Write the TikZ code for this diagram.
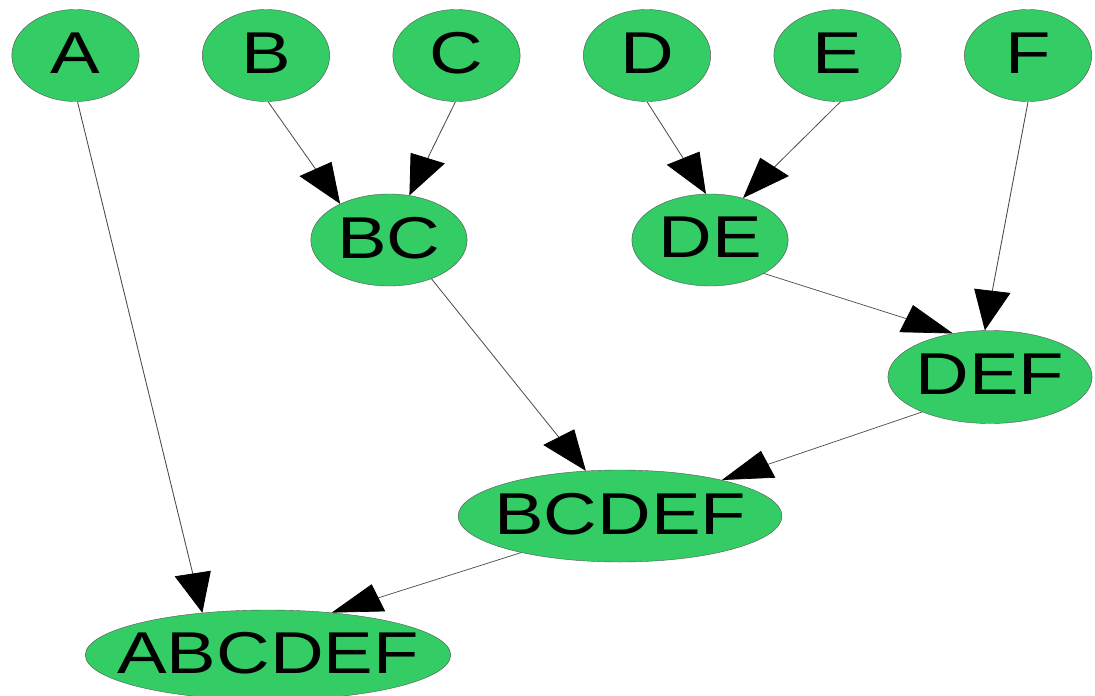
\documentclass[tikz,border=0pt]{standalone}
\usepackage{fontspec}
\setmainfont{Liberation Sans}
\usetikzlibrary{shapes.geometric,arrows.meta}
\definecolor{nodegreen}{RGB}{52,204,100}

\begin{document}
\begin{tikzpicture}[x=1pt,y=-1pt,
    blob/.style={ellipse,draw=black!65,fill=nodegreen,inner sep=0pt,inner xsep=-20pt,
      text depth=5pt,minimum height=92pt,font=\fontsize{59}{59}\selectfont},
    edge/.style={draw=black!70,line width=0.7pt,
      -{Triangle[length=40pt,width=29pt,color=black]}}]
  \useasboundingbox (0,0) rectangle (1095,696);
  % the whole graph is stretched sideways
  \begin{scope}[transform canvas={xscale=1.26}]
    % leaves
    \foreach \name [count=\i from 0] in {A,B,C,D,E,F}{
      \node[blob,minimum width=101pt] (\name) at (59.9+151.2*\i,55.5) {\name};
    }
    % merged clusters
    \node[blob,minimum width=124pt] (BC) at (308.7,240) {BC};
    \node[blob,minimum width=124pt] (DE) at (563.5,240) {DE};
    \node[blob,minimum width=162pt,minimum height=93pt] (DEF) at (785.7,377) {DEF};
    \node[blob,minimum width=257pt] (BCDEF) at (492.1,516) {BCDEF};
    \node[blob,minimum width=290pt,minimum height=90pt] (ABCDEF) at (212.7,655) {ABCDEF};
    % merges
    \foreach \src/\sa/\dst/\da in {A/-88.6/ABCDEF/141, B/-88/BC/137.5, C/-91.4/BC/70,
        D/-90/DE/94, E/-87.6/DE/58.8, F/-90/DEF/95.3, DE/-38.9/DEF/124.4,
        BC/-49.7/BCDEF/121.5, DEF/-147.4/BCDEF/24.7, BCDEF/-155.4/ABCDEF/40.7}{
      \draw[edge] (\src.\sa) -- (\dst.\da);
    }
  \end{scope}
\end{tikzpicture}
\end{document}
